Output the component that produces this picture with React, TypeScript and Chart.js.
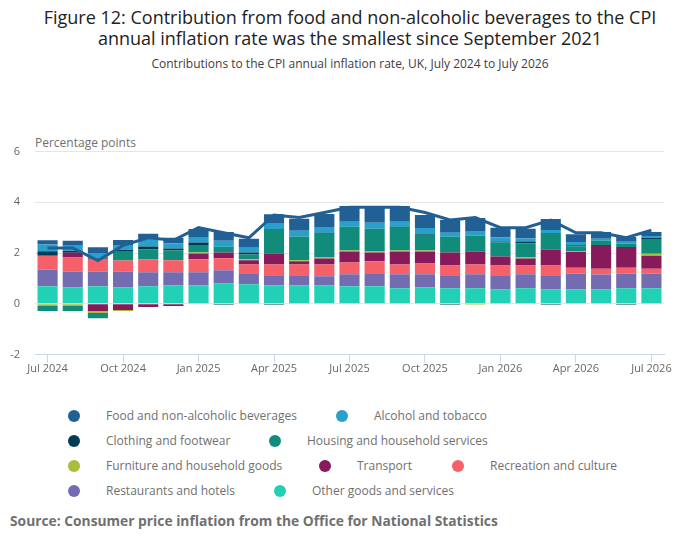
import { useEffect, useRef } from "react"
import { Chart, type ChartConfiguration, registerables } from "chart.js"

Chart.register(...registerables)

const FONT = "'Open Sans', sans-serif"

const months = [
  "Jul 2024", "Aug 2024", "Sep 2024", "Oct 2024", "Nov 2024", "Dec 2024",
  "Jan 2025", "Feb 2025", "Mar 2025", "Apr 2025", "May 2025", "Jun 2025",
  "Jul 2025", "Aug 2025", "Sep 2025", "Oct 2025", "Nov 2025", "Dec 2025",
  "Jan 2026", "Feb 2026", "Mar 2026", "Apr 2026", "May 2026", "Jun 2026",
  "Jul 2026",
]

// contributions in percentage points
const food = [0.16, 0.16, 0.23, 0.19, 0.23, 0.23, 0.35, 0.35, 0.35, 0.35, 0.47, 0.51, 0.62, 0.66, 0.62, 0.51, 0.51, 0.51, 0.39, 0.39, 0.43, 0.31, 0.27, 0.19, 0.16]
const alcohol = [0.27, 0.23, 0.19, 0.19, 0.27, 0.19, 0.19, 0.23, 0.19, 0.23, 0.23, 0.23, 0.19, 0.23, 0.19, 0.23, 0.16, 0.19, 0.16, 0.12, 0.12, 0.12, 0.08, 0.08, 0.08]
const clothing = [0.17, 0.08, 0.04, 0.08, 0.12, 0.08, 0.12, -0.04, 0.08, -0.04, 0, 0.04, 0, 0, 0.04, 0.04, -0.04, 0, 0.04, 0.08, -0.04, 0.04, 0, -0.04, 0.04]
const housing = [-0.2, -0.2, -0.2, 0.35, 0.39, 0.39, 0.27, 0.23, 0.19, 0.97, 0.94, 0.94, 0.94, 0.9, 0.9, 0.62, 0.62, 0.62, 0.55, 0.55, 0.66, 0.19, 0.16, 0.12, 0.58]
const furniture = [-0.09, -0.09, -0.08, -0.04, 0, 0, 0.04, 0, 0.04, 0, 0.04, 0.04, 0.04, 0.04, 0.04, 0.04, 0, -0.04, 0, 0.04, 0, 0.04, 0, 0, 0.08]
const transport = [0.02, 0.19, -0.29, -0.25, -0.13, -0.09, 0.23, 0.23, 0.16, 0.43, 0.12, 0.23, 0.43, 0.35, 0.51, 0.47, 0.51, 0.51, 0.35, 0.27, 0.62, 0.62, 0.94, 0.82, 0.51]
const recreation = [0.53, 0.55, 0.5, 0.43, 0.51, 0.47, 0.51, 0.47, 0.35, 0.43, 0.43, 0.47, 0.47, 0.47, 0.39, 0.43, 0.39, 0.39, 0.39, 0.35, 0.39, 0.23, 0.23, 0.23, 0.19]
const restaurants = [0.66, 0.62, 0.58, 0.62, 0.55, 0.51, 0.51, 0.51, 0.43, 0.39, 0.39, 0.35, 0.47, 0.51, 0.55, 0.51, 0.51, 0.55, 0.55, 0.55, 0.55, 0.62, 0.58, 0.58, 0.58]
const other = [0.69, 0.65, 0.69, 0.65, 0.69, 0.73, 0.73, 0.81, 0.77, 0.73, 0.73, 0.73, 0.69, 0.69, 0.61, 0.65, 0.61, 0.61, 0.57, 0.61, 0.57, 0.57, 0.57, 0.61, 0.61]

// CPI annual rate (line)
const cpi = [2.2, 2.2, 1.7, 2.3, 2.6, 2.5, 3.0, 2.8, 2.6, 3.5, 3.4, 3.6, 3.8, 3.8, 3.8, 3.6, 3.3, 3.4, 3.0, 3.0, 3.3, 2.8, 2.8, 2.6, 2.9]

const yTicks = [-2, 0, 2, 4, 6]

// legend order (top of stack first)
const seriesNames = [
  "Food and non-alcoholic beverages",
  "Alcohol and tobacco",
  "Clothing and footwear",
  "Housing and household services",
  "Furniture and household goods",
  "Transport",
  "Recreation and culture",
  "Restaurants and hotels",
  "Other goods and services",
]
const seriesData = [food, alcohol, clothing, housing, furniture, transport, recreation, restaurants, other]
const seriesColors = ["#206095", "#27a0cc", "#003c57", "#118c7b", "#a8bd3a", "#871a5b", "#f66068", "#746cb1", "#22d0b6"]

// legend placement: [circle x, row]
const legendPos: [number, number][] = [
  [74, 0], [342, 0],
  [74, 1], [275, 1],
  [74, 2], [325, 2], [458, 2],
  [74, 3], [280, 3],
]

export default function App() {
  const chartRef = useRef<HTMLCanvasElement>(null)
  const chartInstance = useRef<Chart>()

  useEffect(() => {
    if (!chartRef.current) return
    if (chartInstance.current) chartInstance.current.destroy()
    const ctx = chartRef.current.getContext("2d")
    if (!ctx) return

    // bars stacked from the bottom: last legend entry first
    const barSets = seriesNames
      .map((name, i) => ({
        type: "bar" as const,
        label: name,
        data: seriesData[i],
        backgroundColor: seriesColors[i],
        borderWidth: 0,
        stack: "contrib",
        order: 1,
        barPercentage: 0.8,
        categoryPercentage: 1,
      }))
      .reverse()

    chartInstance.current = new Chart(ctx, {
      data: {
        labels: months,
        datasets: [
          {
            type: "line",
            label: "CPI",
            data: cpi,
            borderColor: "#206095",
            borderWidth: 3,
            pointRadius: 0,
            tension: 0,
            stack: "cpi",
            order: 0,
          },
          ...barSets,
        ],
      },
      options: {
        animation: false,
        responsive: false,
        maintainAspectRatio: false,
        layout: { padding: { top: 11, right: 36, bottom: 0, left: 0 } },
        plugins: {
          legend: { display: false },
          tooltip: { enabled: false },
        },
        scales: {
          x: {
            stacked: true,
            offset: true,
            border: { color: "#ccd6eb", width: 1 },
            grid: {
              offset: false,
              drawOnChartArea: false,
              tickLength: 8,
              color: (c: any) => (c.index % 3 === 0 ? "#ccd6eb" : "rgba(0,0,0,0)"),
            },
            ticks: {
              autoSkip: false,
              maxRotation: 0,
              padding: 0,
              color: "#666666",
              font: { family: FONT, size: 11 },
              callback: (_v: any, i: number) => (i % 3 === 0 ? months[i] : ""),
            },
          },
          y: {
            stacked: true,
            min: -2,
            max: 6,
            afterBuildTicks: (s: any) => {
              s.ticks = yTicks.map((v) => ({ value: v }))
            },
            afterFit: (s: any) => {
              s.width = 35
            },
            border: { display: false },
            grid: { color: "#e6e6e6", drawTicks: false },
            ticks: {
              padding: 15,
              color: "#666666",
              font: { family: FONT, size: 11 },
            },
          },
        },
      },
    } as ChartConfiguration)

    return () => {
      if (chartInstance.current) chartInstance.current.destroy()
    }
  }, [])

  return (
    <div
      style={{
        position: "absolute",
        left: 0,
        top: 0,
        width: 700,
        height: 549,
        background: "#ffffff",
        fontFamily: FONT,
        overflow: "hidden",
      }}
    >
      <div
        style={{
          position: "absolute",
          top: 7,
          left: 0,
          width: 700,
          textAlign: "center",
          fontSize: 18,
          lineHeight: "21px",
          color: "#222222",
        }}
      >
        Figure 12: Contribution from food and non-alcoholic beverages to the CPI
        <br />
        annual inflation rate was the smallest since September 2021
      </div>
      <div
        style={{
          position: "absolute",
          top: 56,
          left: 0,
          width: 700,
          textAlign: "center",
          fontSize: 12,
          lineHeight: "16px",
          color: "#414042",
        }}
      >
        Contributions to the CPI annual inflation rate, UK, July 2024 to July 2026
      </div>
      <div
        style={{
          position: "absolute",
          top: 135,
          left: 35,
          fontSize: 12,
          lineHeight: "16px",
          color: "#707070",
        }}
      >
        Percentage points
      </div>
      <canvas
        ref={chartRef}
        width={700}
        height={246}
        style={{ position: "absolute", top: 130, left: 0, width: 700, height: 246 }}
      />
      {seriesNames.map((name, i) => {
        const [cx, row] = legendPos[i]
        const cy = 416 + row * 25
        return (
          <div key={name}>
            <div
              style={{
                position: "absolute",
                left: cx - 6,
                top: cy - 6,
                width: 12,
                height: 12,
                borderRadius: "50%",
                background: seriesColors[i],
              }}
            />
            <div
              style={{
                position: "absolute",
                left: cx + 32,
                top: cy - 9,
                fontSize: 12,
                lineHeight: "18px",
                color: "#707070",
                whiteSpace: "nowrap",
              }}
            >
              {name}
            </div>
          </div>
        )
      })}
      <div
        style={{
          position: "absolute",
          left: 10,
          top: 511,
          fontSize: 13.8,
          lineHeight: "20px",
          fontWeight: 700,
          color: "#707070",
          whiteSpace: "nowrap",
        }}
      >
        Source: Consumer price inflation from the Office for National Statistics
      </div>
    </div>
  )
}
